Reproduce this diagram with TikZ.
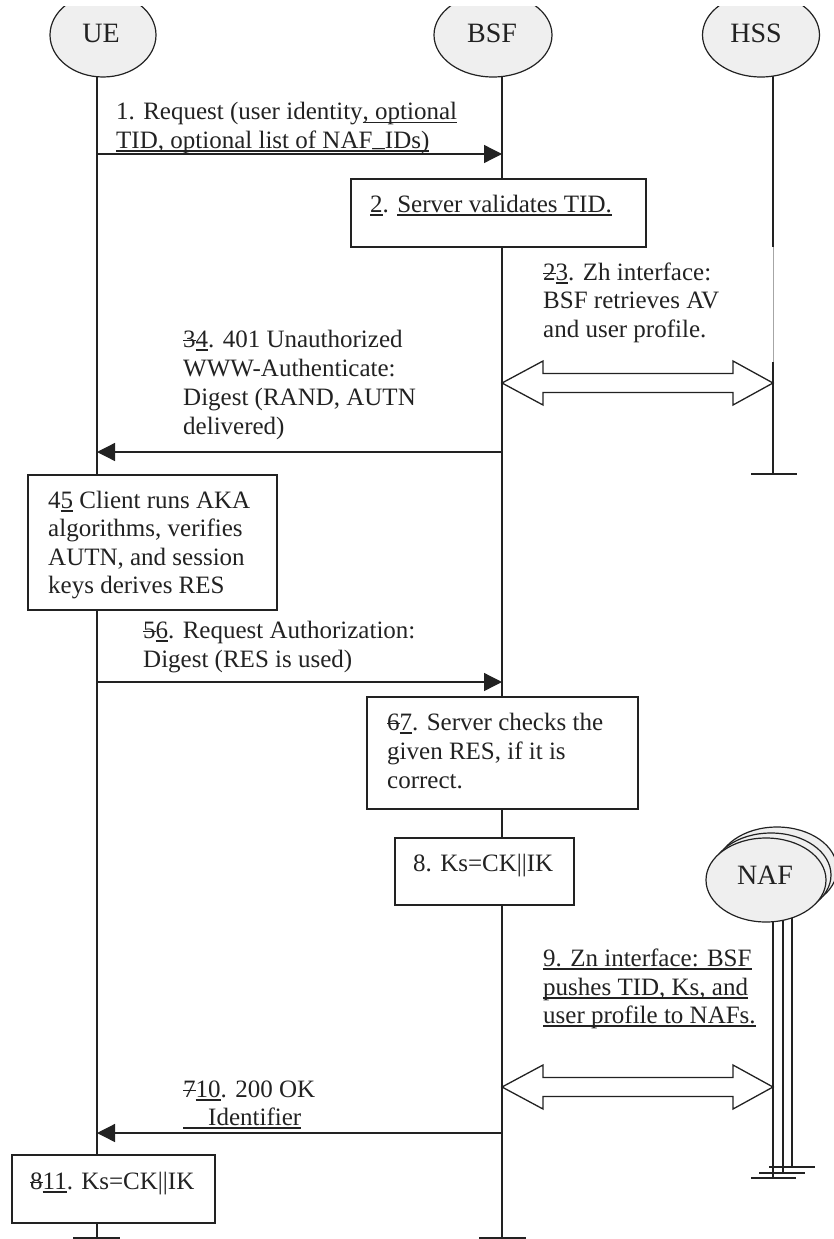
\documentclass[tikz,border=0pt]{standalone}
\usepackage{fontspec}
\setmainfont{Liberation Serif}
\usetikzlibrary{arrows.meta,shapes.geometric}
\definecolor{ink}{HTML}{222222}
\definecolor{entityfill}{HTML}{EFEFEF}
\newcommand{\msgfont}{\fontsize{25}{28.5}\selectfont}
\newcommand{\entfont}{\fontsize{28}{30}\selectfont}

% underlined and struck-through text (revision marks)
\newsavebox{\markbox}
\newcommand{\undl}[1]{\sbox{\markbox}{#1}\rlap{\rule[-3.5pt]{\wd\markbox}{1.2pt}}\usebox{\markbox}}
\newcommand{\strk}[1]{\sbox{\markbox}{#1}\rlap{\rule[6pt]{\wd\markbox}{1.2pt}}\usebox{\markbox}}

\tikzset{
  entity/.style={ellipse, draw, fill=entityfill, inner sep=0pt, line width=1.2pt},
  entlbl/.style={inner sep=0pt, font=\entfont, text=ink},
  lifeline/.style={line width=1.3pt},
  stepbox/.style={draw, fill=white, inner sep=0pt, line width=1.3pt},
  msg/.style={line width=1.3pt, -{Triangle[length=18pt,width=18pt]}},
  txt/.style={inner sep=0pt, anchor=base west, font=\msgfont, text=ink},
  blockarrow/.style={draw, fill=white, line width=1.3pt, line join=miter},
}

\begin{document}
\begin{tikzpicture}[x=1pt, y=-1pt, color=ink]
\useasboundingbox (0,0) rectangle (834,1239);
\clip (0,0) rectangle (834,1239);

% lifeline end points
\coordinate (ueTop) at (97,76);   \coordinate (ueBot) at (97,1238);
\coordinate (bsfTop) at (502,76); \coordinate (bsfBot) at (502,1238);
\coordinate (hssTop) at (773,76); \coordinate (hssBot) at (773,474);
\coordinate (hssGapA) at (773,247); \coordinate (hssGapB) at (773,362);

% lifelines with end ticks
\draw[lifeline] (ueTop) -- (ueBot);
\draw[lifeline] (73,1238) -- (120,1238);
\draw[lifeline] (bsfTop) -- (bsfBot);
\draw[lifeline] (479,1238) -- (526,1238);
\draw[lifeline] (hssTop) -- (hssGapA);
\draw[line width=0.6pt, black!35] (hssGapA) -- (hssGapB);
\draw[lifeline] (hssGapB) -- (hssBot);
\draw[lifeline] (751,474) -- (797,474);

% NAF lifelines (three stacked instances)
\draw[lifeline] (792,880) -- (792,1167);
\draw[lifeline] (769,1167) -- (815,1167);
\draw[lifeline] (783,880) -- (783,1173);
\draw[lifeline] (759,1173) -- (805,1173);
\draw[lifeline] (773,880) -- (773,1178);
\draw[lifeline] (751,1178) -- (796,1178);

% entities (cut by the top margin)
\begin{scope}
\clip (0,7) rectangle (834,1239);
\node[entity, minimum width=106pt, minimum height=84pt] (ue)  at (103,35) {};
\node[entity, minimum width=118pt, minimum height=84pt] (bsf) at (493,35) {};
\node[entity, minimum width=117pt, minimum height=84pt] (hss) at (761,35) {};
\end{scope}
\node[entlbl] (uelbl)  at (101,33) {UE};
\node[entlbl] (bsflbl) at (492,33) {BSF};
\node[entlbl] (hsslbl) at (756,33) {HSS};

\node[entity, minimum width=120pt, minimum height=84pt] (naf3) at (777,869) {};
\node[entity, minimum width=120pt, minimum height=84pt] (naf2) at (771,875) {};
\node[entity, minimum width=120pt, minimum height=84pt] (naf)  at (766,880) {};
\node[entlbl] (naflbl) at (765,875) {NAF};

% processing steps
\node[stepbox, minimum width=295pt, minimum height=68pt]  (b2)  at (498.5,213) {};
\node[stepbox, minimum width=249pt, minimum height=135pt] (b45) at (152.5,542.5) {};
\node[stepbox, minimum width=271pt, minimum height=112pt] (b67) at (502.5,753) {};
\node[stepbox, minimum width=179pt, minimum height=67pt]  (b8)  at (484.5,871.5) {};
\node[stepbox, minimum width=203pt, minimum height=68pt]  (b11) at (113.5,1189) {};

% messages
\coordinate (m1s) at (97,154);    \coordinate (m1e) at (502,154);
\coordinate (m4s) at (502,452);   \coordinate (m4e) at (97,452);
\coordinate (m6s) at (97,682);    \coordinate (m6e) at (502,682);
\coordinate (m10s) at (502,1133); \coordinate (m10e) at (97,1133);
\draw[msg] (m1s) -- (m1e);
\draw[msg] (m4s) -- (m4e);
\draw[msg] (m6s) -- (m6e);
\draw[msg] (m10s) -- (m10e);

% Zh and Zn interfaces (double block arrows)
\draw[blockarrow] (502,383) -- (543,361) -- (543,373.5) -- (733,373.5) -- (733,361)
  -- (773,383) -- (733,405) -- (733,392.5) -- (543,392.5) -- (543,405) -- cycle;
\draw[blockarrow] (502,1087) -- (543,1065) -- (543,1077.5) -- (733,1077.5) -- (733,1065)
  -- (773,1087) -- (733,1109) -- (733,1096.5) -- (543,1096.5) -- (543,1109) -- cycle;

% labels
\node[txt] (t1a) at (116,119.5) {1. Request (user identity\undl{, optional}};
\node[txt] (t1b) at (116,148) {\undl{TID, optional list of NAF\raisebox{2pt}{\_}IDs)}};
\node[txt] (t2) at (370,212) {\undl{2}. \undl{Server validates TID.}};
\node[txt] (t3a) at (543,280) {\strk{2}\undl{3}. Zh interface:};
\node[txt] (t3b) at (543,308.5) {BSF retrieves AV};
\node[txt] (t3c) at (543,337) {and user profile.};
\node[txt] (t4a) at (183,347) {\strk{3}\undl{4}. 401 Unauthorized};
\node[txt] (t4b) at (183,376) {WWW-Authenticate:};
\node[txt] (t4c) at (183,405) {Digest (RAND, AUTN};
\node[txt] (t4d) at (183,434) {delivered)};
\node[txt] (t5a) at (48,508) {4\undl{5} Client runs AKA};
\node[txt] (t5b) at (48,536.5) {algorithms, verifies};
\node[txt] (t5c) at (48,565) {AUTN, and session};
\node[txt] (t5d) at (48,593.5) {keys derives RES};
\node[txt] (t6a) at (143,638) {\strk{5}\undl{6}. Request Authorization:};
\node[txt] (t6b) at (143,667) {Digest (RES is used)};
\node[txt] (t7a) at (387,730) {\strk{6}\undl{7}. Server checks the};
\node[txt] (t7b) at (387,759) {given RES, if it is};
\node[txt] (t7c) at (387,788) {correct.};
\node[txt] (t8) at (413,871) {8. Ks=CK||IK};
\node[txt] (t9a) at (543,966) {\undl{9. Zn interface: BSF}};
\node[txt] (t9b) at (543,995) {\undl{pushes TID, Ks, and}};
\node[txt] (t9c) at (543,1023) {\undl{user profile to NAFs.}};
\node[txt] (t10a) at (183,1097) {\strk{7}\undl{10}. 200 OK};
\node[txt] (t10b) at (183,1125) {\undl{\hspace*{25pt}Identifier}};
\node[txt] (t11) at (30,1189) {\strk{8}\undl{11}. Ks=CK||IK};
\end{tikzpicture}
\end{document}
